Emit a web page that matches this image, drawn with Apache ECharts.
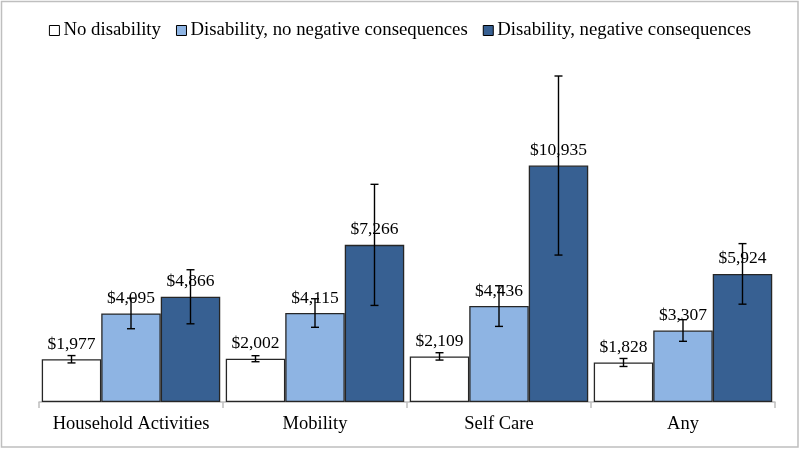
<!DOCTYPE html>
<html><head><meta charset="utf-8">
<script src="https://cdn.jsdelivr.net/npm/echarts@6/dist/echarts.min.js"></script>
<style>html,body{margin:0;padding:0;background:#fff}#c{width:800px;height:449px}</style>
</head><body><div id="c"></div>
<script>
var categories = ['Household Activities', 'Mobility', 'Self Care', 'Any'];
var seriesNames = ['No disability', 'Disability, no negative consequences', 'Disability, negative consequences'];
var noDisability = [1977, 2002, 2109, 1828];
var disNoNeg = [4095, 4115, 4436, 3307];
var disNeg = [4866, 7266, 10935, 5924];
var noDisabilityErr = [170, 140, 170, 185];
var disNoNegErr = [707, 660, 940, 500];
var disNegErr = [1250, 2800, 4140, 1400];

var values = [noDisability, disNoNeg, disNeg];
var errs = [noDisabilityErr, disNoNegErr, disNegErr];
var colors = ['#ffffff', '#8eb4e3', '#376092'];
var FONT = '"Liberation Serif", "Times New Roman", serif';
var catGap = 0.03;

var chart = echarts.init(document.getElementById('c'));
var series = [];
values.forEach(function (vals, s) {
  series.push({
    name: seriesNames[s], type: 'bar', data: vals,
    barGap: '0%', barCategoryGap: '3%',
    itemStyle: { color: colors[s], borderColor: '#262626', borderWidth: 1.3 },
    label: { show: true, position: 'top', distance: 6, color: '#000', fontFamily: FONT, fontSize: 17.5,
      formatter: function (p) { return '$' + p.value.toLocaleString('en-US'); } },
    z: 2
  });
});
values.forEach(function (vals, s) {
  var data = vals.map(function (v, i) { return [i, v - errs[s][i], v + errs[s][i]]; });
  series.push({
    type: 'custom', data: data, z: 5, silent: true,
    renderItem: function (params, api) {
      var ci = api.value(0);
      var lo = api.coord([ci, api.value(1)]);
      var hi = api.coord([ci, api.value(2)]);
      var band = api.size([1, 0])[0];
      var bw = band * (1 - catGap) / 3;
      var x = lo[0] + (s - 1) * bw;
      var cap = 4;
      var st = { stroke: '#000', lineWidth: 1.4 };
      return { type: 'group', children: [
        { type: 'line', shape: { x1: x, y1: lo[1], x2: x, y2: hi[1] }, style: st },
        { type: 'line', shape: { x1: x - cap, y1: lo[1], x2: x + cap, y2: lo[1] }, style: st },
        { type: 'line', shape: { x1: x - cap, y1: hi[1], x2: x + cap, y2: hi[1] }, style: st }
      ]};
    }
  });
});

chart.setOption({
  animation: false,
  backgroundColor: '#fff',
  graphic: [{ type: 'rect', shape: { x: 1.5, y: 1.5, width: 796.5, height: 445.5 },
    style: { fill: 'none', stroke: '#bfbfbf', lineWidth: 1.5 }, z: -1 }],
  legend: {
    data: seriesNames, top: 16, left: 'center', itemWidth: 10, itemHeight: 10, itemGap: 15, icon: 'rect',
    itemStyle: { borderColor: '#000', borderWidth: 1 },
    textStyle: { color: '#000', fontFamily: FONT, fontSize: 18.8, padding: [0, 0, 0, -1] }
  },
  grid: { left: 39, right: 25, top: 56, bottom: 47 },
  xAxis: {
    type: 'category', data: categories,
    axisLine: { lineStyle: { color: '#bfbfbf', width: 1.5 } },
    axisTick: { show: true, interval: 0, length: 6, lineStyle: { color: '#bfbfbf', width: 1.5 } },
    axisLabel: { interval: 0, color: '#000', fontFamily: FONT, fontSize: 18.5, margin: 13 }
  },
  yAxis: { type: 'value', min: 0, max: 16000, show: false, splitLine: { show: false } },
  series: series
});
</script></body></html>
